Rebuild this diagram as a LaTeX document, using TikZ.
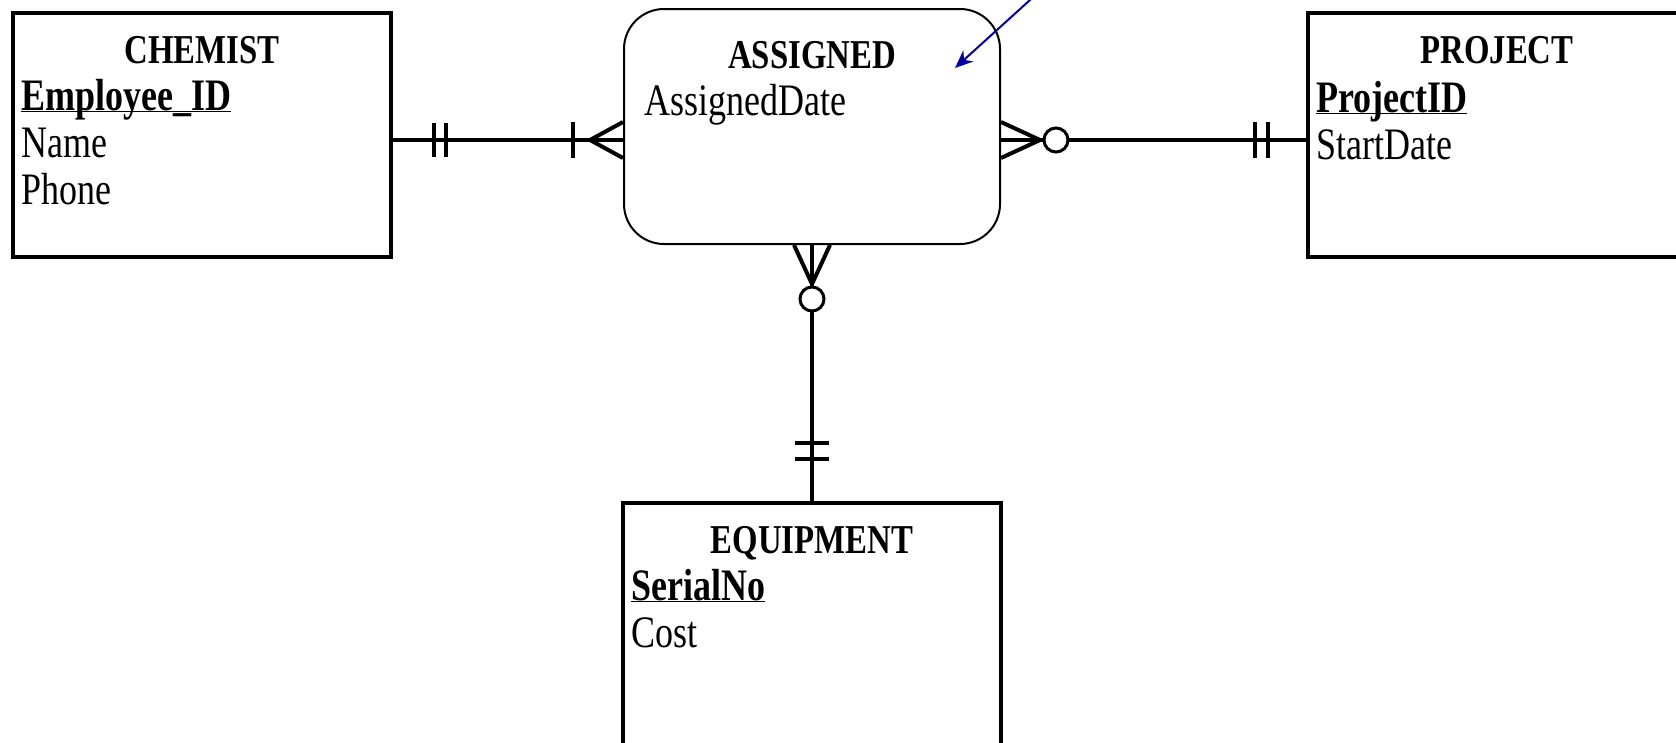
\documentclass[tikz,border=0pt]{standalone}
\usepackage{fontspec}
\setmainfont{Liberation Serif}[FakeStretch=0.8]
\usetikzlibrary{arrows.meta, calc}
\definecolor{navy}{RGB}{0,0,160}

\begin{document}
\begin{tikzpicture}[
  x=1pt, y=1pt,
  font=\fontsize{45}{47}\selectfont,
  entity/.style={draw, line width=4pt, anchor=north west, inner sep=0pt, minimum width=378pt, minimum height=244pt},
  relbox/.style={draw, line width=2pt, rounded corners=40pt, anchor=north west, inner sep=0pt, minimum width=376pt, minimum height=235pt},
  title/.style={font=\fontsize{41}{47}\selectfont\bfseries, anchor=base, inner sep=0pt},
  attrs/.style={anchor=base west, align=left, text width=360pt, inner sep=0pt},
  link/.style={line width=4pt},
  tick/.style={line width=3.5pt},
  crow/.style={line width=4pt},
  opt/.style={draw, circle, line width=3pt, fill=white, inner sep=0pt, minimum size=24pt},
  note/.style={-{Stealth[length=18pt, width=15pt]}, line width=2pt, navy}
]
\useasboundingbox (0,0) rectangle (1676,-742);
\fill[white] (0,0) rectangle (1676,-742);
\clip (0,0) rectangle (1676,-742);

% ===== Entities =====
\node[entity] (chemist) at (11,-11) {};
\node[title] (chemistname) at ([yshift=-52pt]chemist.north) {CHEMIST};
\node[attrs] (chemistattr) at ([xshift=10pt,yshift=-99pt]chemist.north west)
{\underline{\smash{\textbf{Employee\_ID}}}\\Name\\Phone};

\node[relbox] (assigned) at (623,-8) {};
\node[title] (assignedname) at ([yshift=-60pt]assigned.north) {ASSIGNED};
\node[attrs] (assignedattr) at ([xshift=21pt,yshift=-107pt]assigned.north west) {AssignedDate};

\node[entity] (project) at (1306,-11) {};
\node[title] (projectname) at ([yshift=-52pt]project.north) {PROJECT};
\node[attrs] (projectattr) at ([xshift=10pt,yshift=-101pt]project.north west)
{\underline{\smash{\textbf{ProjectID}}}\\StartDate};

\node[entity, minimum height=320pt] (equipment) at (621,-501) {};
\node[title] (equipmentname) at ([yshift=-52pt]equipment.north) {EQUIPMENT};
\node[attrs] (equipmentattr) at ([xshift=10pt,yshift=-99pt]equipment.north west)
{\underline{\smash{\textbf{SerialNo}}}\\Cost};

% ===== Relationships =====
\coordinate (chemlink) at ([yshift=-5pt]chemist.east);
\coordinate (asgleft) at (chemlink -| assigned.west);
\coordinate (asgright) at (chemlink -| assigned.east);
\coordinate (projlink) at (chemlink -| project.west);

\draw[link] (chemlink) -- (asgleft);
\draw[link] (asgright) -- (projlink);
\draw[link] (assigned.south) -- (equipment.north);

% chemist: one and only one / assigned: one or many
\foreach \dx in {41,53}
  \draw[tick] ([xshift=\dx pt,yshift=17pt]chemlink) -- ++(0,-34);
\draw[tick] ([xshift=-50pt,yshift=18pt]asgleft) -- ++(0,-36);
\draw[crow] ([yshift=18pt]asgleft) -- ([xshift=-33pt]asgleft) -- ([yshift=-18pt]asgleft);

% assigned: zero or many / project: one and only one
\draw[crow] ([yshift=18pt]asgright) -- ([xshift=39pt]asgright) -- ([yshift=-18pt]asgright);
\node[opt] (projopt) at ([xshift=55pt]asgright) {};
\foreach \dx in {-51,-38}
  \draw[tick] ([xshift=\dx pt,yshift=18pt]projlink) -- ++(0,-36);

% assigned: zero or many / equipment: one and only one
\draw[crow] ([xshift=-18pt]assigned.south) -- ([yshift=-39pt]assigned.south) -- ([xshift=18pt]assigned.south);
\node[opt] (equipopt) at ([yshift=-54pt]assigned.south) {};
\foreach \dy in {58,42}
  \draw[tick] ([xshift=-17pt,yshift=\dy pt]equipment.north) -- ++(34,0);

% ===== Pointer =====
\draw[note] ([xshift=40pt,yshift=18pt]assigned.north east) -- ([xshift=-46pt,yshift=-60pt]assigned.north east);

\end{tikzpicture}
\end{document}
